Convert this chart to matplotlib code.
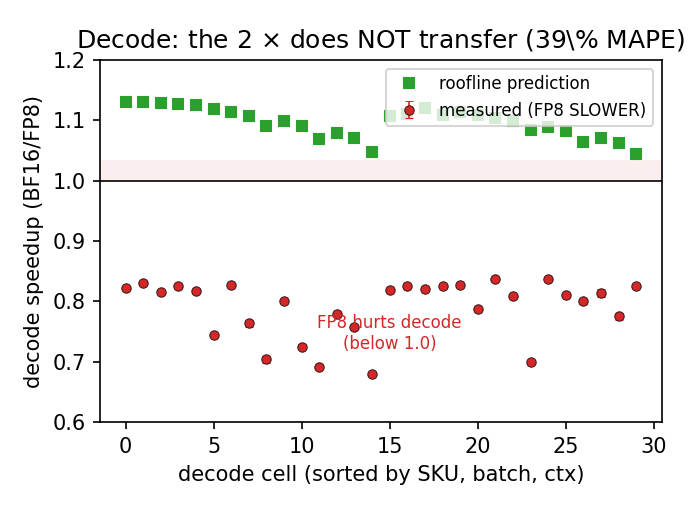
import matplotlib
matplotlib.use('Agg')
import matplotlib.pyplot as plt
import numpy as np

cells = np.arange(30)
predicted = [1.131, 1.131, 1.129, 1.128, 1.126, 1.119, 1.114, 1.108, 1.091, 1.099,
             1.091, 1.070, 1.080, 1.071, 1.048, 1.108, 1.111, 1.120, 1.109, 1.114,
             1.109, 1.104, 1.099, 1.084, 1.089, 1.082, 1.064, 1.071, 1.063, 1.044]
measured = [0.822, 0.830, 0.815, 0.825, 0.818, 0.744, 0.827, 0.764, 0.704, 0.800,
            0.725, 0.692, 0.779, 0.758, 0.679, 0.819, 0.825, 0.821, 0.825, 0.828,
            0.787, 0.837, 0.809, 0.699, 0.837, 0.811, 0.800, 0.814, 0.775, 0.825]
measured_err = [0.003, 0.002, 0.003, 0.002, 0.002, 0.003, 0.002, 0.006, 0.006, 0.002,
                0.004, 0.003, 0.003, 0.003, 0.002, 0.002, 0.002, 0.003, 0.002, 0.002,
                0.002, 0.002, 0.004, 0.003, 0.002, 0.003, 0.004, 0.006, 0.005, 0.002]

fig, ax = plt.subplots(figsize=(4.6, 3.4), dpi=150)
fig.subplots_adjust(left=0.145, right=0.959, top=0.882, bottom=0.1725)

ax.axhspan(1.0, 1.035, color='#d62728', alpha=0.08, lw=0)
ax.axhline(1.0, color='black', lw=0.8)

ax.plot(cells, predicted, 's', color='#2ca02c', markersize=5, label='roofline prediction')
ax.errorbar(cells, measured, yerr=measured_err, fmt='o', color='#d62728',
            markersize=4.5, markeredgecolor='#3a1a1a', markeredgewidth=0.5,
            ecolor='#d62728', elinewidth=0.8, capsize=2, label='measured (FP8 SLOWER)')

ax.text(15, 0.747, 'FP8 hurts decode\n(below 1.0)', color='#d62728', fontsize=8,
        ha='center', va='center')

ax.set_ylim(0.6, 1.2)
ax.set_xlabel('decode cell (sorted by SKU, batch, ctx)')
ax.set_ylabel('decode speedup (BF16/FP8)')
ax.set_title(r'Decode: the 2 $\times$ does NOT transfer (39\% MAPE)', fontsize=12)
ax.legend(loc='upper right', fontsize=8)

fig.savefig('out.png', dpi=150)
